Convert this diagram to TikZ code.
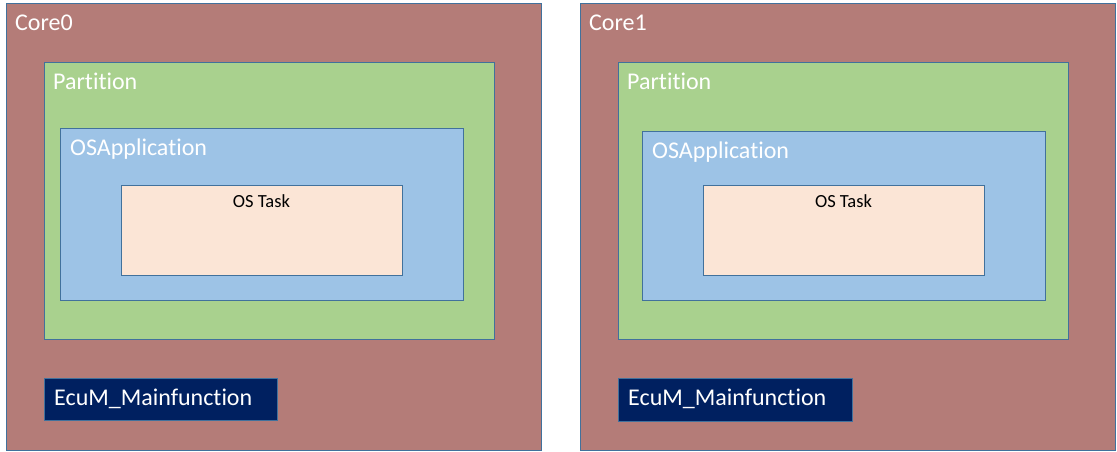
\documentclass[tikz,border=0pt]{standalone}
\usepackage{fontspec}
\setmainfont[Ligatures=NoCommon]{Carlito}
\usepackage{xcolor}
\usepackage{tikz}
\usetikzlibrary{positioning}

\definecolor{corebrown}{HTML}{B47C78}
\definecolor{partgreen}{HTML}{A9D18E}
\definecolor{appblue}{HTML}{9DC3E6}
\definecolor{taskpeach}{HTML}{FBE5D6}
\definecolor{ecunavy}{HTML}{002060}
\definecolor{edgeblue}{HTML}{41719C}

\begin{document}
\begin{tikzpicture}[
    x=1pt, y=-1pt,
    box/.style={rectangle, draw=edgeblue, line width=1pt, anchor=north west, inner sep=0pt, outer sep=0pt},
    core/.style={box, fill=corebrown, minimum width=535pt, minimum height=447pt},
    partition/.style={box, fill=partgreen, minimum width=450pt, minimum height=277pt},
    osapp/.style={box, fill=appblue, minimum width=403pt},
    ostask/.style={box, fill=taskpeach, minimum width=281pt, minimum height=90pt},
    ecum/.style={box, fill=ecunavy, minimum width=233pt, minimum height=42pt},
    lbl/.style={anchor=north west, inner sep=0pt, text=white, font=\fontsize{24pt}{26pt}\selectfont, text height=15.5pt, text depth=5pt},
    tasklbl/.style={anchor=north, inner sep=0pt, text=black, font=\fontsize{18.5pt}{20pt}\selectfont, text height=12pt, text depth=4pt}
]
\useasboundingbox (0,0) rectangle (1117,451);

% Core0
\node[core] (core0) at (6,3) {};
\node[lbl] at ([xshift=9pt, yshift=-12pt]core0.north west) {Core0};
\node[partition] (part0) at (44,62) {};
\node[lbl] at ([xshift=9pt, yshift=-12pt]part0.north west) {Partition};
\node[osapp, minimum height=172pt] (app0) at (60,128) {};
\node[lbl] at ([xshift=10pt, yshift=-12pt]app0.north west) {OSApplication};
\node[ostask] (task0) at (121,185) {};
\node[tasklbl] at ([yshift=-10pt]task0.north) {OS Task};
\node[ecum] (ecu0) at (44,378) {};
\node[lbl, anchor=west] at ([xshift=10pt, yshift=-1pt]ecu0.west) {EcuM\_Mainfunction};

% Core1
\node[core] (core1) at (580,3) {};
\node[lbl] at ([xshift=9pt, yshift=-12pt]core1.north west) {Core1};
\node[partition] (part1) at (618,62) {};
\node[lbl] at ([xshift=9pt, yshift=-12pt]part1.north west) {Partition};
\node[osapp, minimum height=169pt] (app1) at (642,131) {};
\node[lbl] at ([xshift=10pt, yshift=-12pt]app1.north west) {OSApplication};
\node[ostask] (task1) at (703,185) {};
\node[tasklbl] at ([yshift=-10pt]task1.north) {OS Task};
\node[ecum, minimum width=234pt, minimum height=43pt] (ecu1) at (618,378) {};
\node[lbl, anchor=west] at ([xshift=10pt, yshift=-1pt]ecu1.west) {EcuM\_Mainfunction};

\end{tikzpicture}
\end{document}
